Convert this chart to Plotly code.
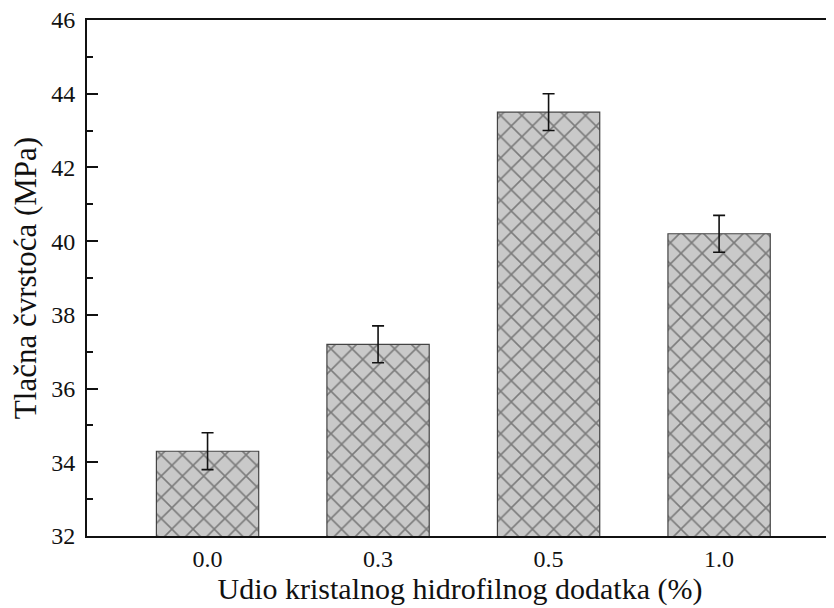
import plotly.graph_objects as go

categories = ["0.0", "0.3", "0.5", "1.0"]
strength = [34.3, 37.2, 43.5, 40.2]
errors = [0.5, 0.5, 0.5, 0.5]
y_ticks = [32, 34, 36, 38, 40, 42, 44, 46]

FONT = "Liberation Serif"

fig = go.Figure()
fig.add_trace(go.Bar(
    x=categories,
    y=strength,
    width=0.6,
    marker=dict(
        color="#c9c9c9",
        line=dict(color="#444444", width=1.2),
        pattern=dict(shape="x", size=15, solidity=0.2, fgcolor="#2e2e2e", bgcolor="#c9c9c9",
                     fillmode="overlay"),
    ),
    error_y=dict(type="data", array=errors, visible=True, color="#111111", thickness=1.6, width=6),
))

# page body has an 8px default margin, so the figure is sized to fit the window
fig.update_layout(
    width=826, height=600,
    margin=dict(l=79, r=1, t=12, b=72),
    plot_bgcolor="white", paper_bgcolor="white",
    showlegend=False,
    font=dict(family=FONT, color="#111111", size=24),
)
fig.update_xaxes(
    type="category",
    range=[-0.707, 3.668],
    automargin=False,
    showline=True, linecolor="#111111", linewidth=2, mirror=True,
    ticks="", showgrid=False,
    tickfont=dict(family=FONT, size=24),
    title=dict(text="Udio kristalnog hidrofilnog dodatka (%)", font=dict(family=FONT, size=30), standoff=5),
)
fig.update_yaxes(
    range=[32, 46],
    tickvals=y_ticks,
    automargin=False,
    ticklabeloverflow="allow",
    showline=True, linecolor="#111111", linewidth=2, mirror=False,
    ticks="inside", ticklen=11, tickwidth=2, tickcolor="#111111",
    minor=dict(dtick=1, ticks="inside", ticklen=6, tickwidth=1.5, tickcolor="#111111", showgrid=False),
    showgrid=False, zeroline=False,
    tickfont=dict(family=FONT, size=24),
    ticklabelstandoff=5,
    title=dict(text="Tlačna čvrstoća (MPa)", font=dict(family=FONT, size=31), standoff=20),
)

fig.write_html("out.html")
